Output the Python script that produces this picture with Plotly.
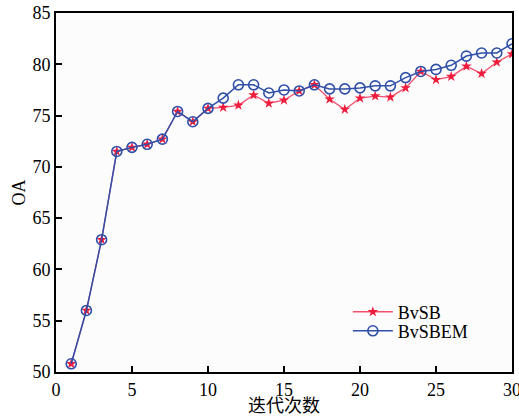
import plotly.graph_objects as go

iterations = list(range(1, 31))
bvsb = [50.8, 56.0, 62.9, 71.5, 71.9, 72.2, 72.7, 75.4, 74.4, 75.7,
        75.8, 76.0, 77.0, 76.2, 76.5, 77.4, 78.0, 76.6, 75.6, 76.7,
        76.9, 76.8, 77.7, 79.3, 78.5, 78.8, 79.8, 79.1, 80.2, 81.0]
bvsbem = [50.8, 56.0, 62.9, 71.5, 71.9, 72.2, 72.7, 75.4, 74.4, 75.7,
          76.7, 78.0, 78.0, 77.2, 77.5, 77.4, 78.0, 77.6, 77.6, 77.7,
          77.9, 77.9, 78.7, 79.3, 79.5, 79.9, 80.8, 81.1, 81.1, 82.0]
x_ticks = [0, 5, 10, 15, 20, 25, 30]
y_ticks = [50, 55, 60, 65, 70, 75, 80, 85]
x_title = "迭代次数"
y_title = "OA"

serif = "Liberation Serif, Times New Roman, Noto Sans CJK SC, serif"

fig = go.Figure()
fig.add_trace(go.Scatter(
    x=iterations, y=bvsb, name="BvSB", mode="lines+markers", legend="legend",
    line=dict(color="#f2506e", width=1.3),
    marker=dict(symbol="star", size=8, color="#ee1c3c", line=dict(width=0)),
))
fig.add_trace(go.Scatter(
    x=iterations, y=bvsbem, name="BvSBEM", mode="lines+markers", legend="legend2",
    line=dict(color="#2f4fa8", width=1.5),
    marker=dict(symbol="circle-open", size=10, color="#2f4fa8", line=dict(width=1.6)),
))

axis_common = dict(
    showgrid=False, zeroline=False, showline=True, linecolor="black", linewidth=2,
    mirror=True, ticks="inside", ticklen=6, tickwidth=2, tickcolor="black",
    tickfont=dict(family=serif, size=18, color="black"), automargin=False,
    ticklabeloverflow="allow",
)
fig.update_xaxes(range=[0, 30], tickvals=x_ticks, **axis_common)
fig.update_yaxes(range=[50, 85], tickvals=y_ticks, **axis_common,
                 title=dict(text=y_title, font=dict(family=serif, size=18, color="black"), standoff=2))

fig.add_annotation(text=x_title, xref="paper", yref="paper", x=0.5, y=-0.094,
                   xanchor="center", yanchor="middle", showarrow=False,
                   font=dict(family=serif, size=18, color="black"))

leg_common = dict(xanchor="left", yanchor="middle", bgcolor="rgba(0,0,0,0)", borderwidth=0,
                  font=dict(family=serif, size=18, color="black"), itemwidth=40)
fig.update_layout(
    width=519, height=416,
    margin=dict(l=56, r=7, t=13, b=44),
    paper_bgcolor="#ffffff", plot_bgcolor="#fcfcfc",
    showlegend=True,
    legend=dict(x=0.64, y=0.167, **leg_common),
    legend2=dict(x=0.64, y=0.114, **leg_common),
)

fig.write_html("out.html", config={"displayModeBar": False},
               post_script="document.body.style.margin='0';document.body.style.overflow='hidden';")
